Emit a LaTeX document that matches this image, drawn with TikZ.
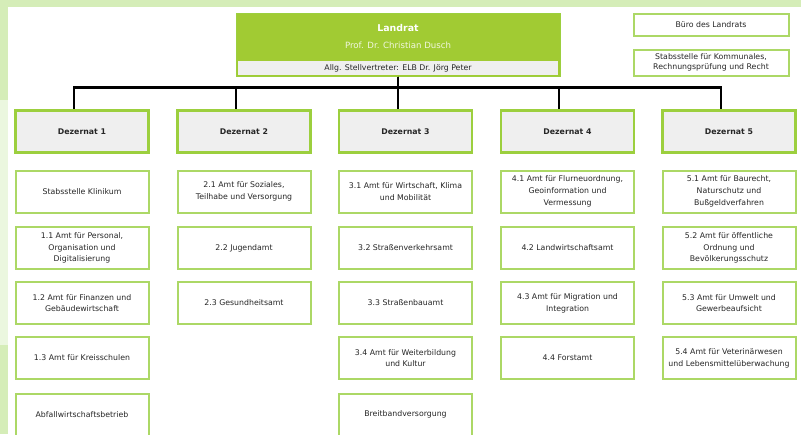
\documentclass[tikz,border=0pt]{standalone}
\usepackage{fontspec}
\setmainfont{DejaVu Sans}
\usepackage{tikz}

\definecolor{bandgreen}{HTML}{D5EDB8}
\definecolor{palegreen}{HTML}{EBF7DF}
\definecolor{leafgreen}{HTML}{A1CB33}
\definecolor{framegreen}{HTML}{9CCF3E}
\definecolor{amtgreen}{HTML}{ACD866}
\definecolor{boxgray}{HTML}{EFEFEF}
\definecolor{txtgray}{HTML}{262626}

\begin{document}
\begin{tikzpicture}[x=1pt,y=-1pt,
    landrat/.style={
% The shape:
rectangle,
% The size:
minimum height=63pt,
minimum width=324pt,
% The border:
draw=framegreen, line width=1pt, fill=leafgreen
},
    stellv/.style={
% The shape:
rectangle,
% The size:
minimum height=12pt,
minimum width=320pt,
fill=boxgray, text=txtgray,
font=\fontsize{7.8}{9}\selectfont
},
    dezernat/.style={
% The shape:
rectangle,
% The size:
minimum height=42pt,
minimum width=133pt,
% The border:
draw=framegreen, line width=2.5pt, fill=boxgray,
font=\fontsize{7.8}{9}\selectfont\bfseries, text=txtgray
},
    amt/.style={
% The shape:
rectangle,
% The size:
minimum height=42pt,
minimum width=133pt,
inner sep=1pt,
% The border:
draw=amtgreen, line width=2pt, fill=white,
align=center, text=txtgray,
font=\fontsize{7.8}{11.7}\selectfont
},
    stab/.style={amt, minimum width=155pt},
    conn/.style={draw=black, line width=2.2pt},
]
  \useasboundingbox (0,0) rectangle (801,434);
  \clip (0,0) rectangle (801,434);

  % background strips
  \fill[bandgreen] (0,0) rectangle (801,7);
  \fill[bandgreen] (0,0) rectangle (8,100);
  \fill[palegreen] (0,100) rectangle (8,345);
  \fill[bandgreen] (0,345) rectangle (8,434);

  % Landrat
  \node[landrat]                        (L) at (398, 44.5)   {};
  \node[stellv]                         (S) at (398, 68)     {Allg. Stellvertreter: ELB Dr. Jörg Peter};
  \node[text=white, font=\fontsize{9.4}{10}\selectfont\bfseries]
                                        (Lname) at (398, 28) {Landrat};
  \node[text=white!85!leafgreen, font=\fontsize{8.6}{10}\selectfont]
                                        (Lprof) at (398, 45) {Prof. Dr. Christian Dusch};

  \node[stab, minimum height=22pt]      (buero) at (711, 24.5) {Büro des Landrats};
  \node[stab, minimum height=26pt, font=\fontsize{7.8}{10}\selectfont]
                                        (stabs) at (711, 62.5) {Stabsstelle für Kommunales,\\Rechnungsprüfung und Recht};

  % Dezernate
  \node[dezernat]                       (D1) at (82, 131.5)    {Dezernat 1};
  \node[dezernat]                       (D2) at (244, 131.5)   {Dezernat 2};
  \node[dezernat]                       (D3) at (405.5, 131.5) {Dezernat 3};
  \node[dezernat]                       (D4) at (567.5, 131.5) {Dezernat 4};
  \node[dezernat]                       (D5) at (729, 131.5)   {Dezernat 5};

  \draw[conn] (L.south) -- ++(0,11) -| ([xshift=-8pt]D1.north);
  \draw[conn] (L.south) -- ++(0,11) -| ([xshift=-8pt]D2.north);
  \draw[conn] (L.south) -- ([xshift=-7.5pt]D3.north);
  \draw[conn] (L.south) -- ++(0,11) -| ([xshift=-8.5pt]D4.north);
  \draw[conn] (L.south) -- ++(0,11) -| ([xshift=-8pt]D5.north);

  % Dezernat 1
  \node[amt] (A11) at (82, 191.5) {Stabsstelle Klinikum};
  \node[amt] (A12) at (82, 248)   {1.1 Amt für Personal,\\Organisation und\\Digitalisierung};
  \node[amt] (A13) at (82, 303)   {1.2 Amt für Finanzen und\\Gebäudewirtschaft};
  \node[amt] (A14) at (82, 358)   {1.3 Amt für Kreisschulen};
  \node[amt] (A15) at (82, 414.5) {Abfallwirtschaftsbetrieb};

  % Dezernat 2
  \node[amt] (A21) at (244, 191.5) {2.1 Amt für Soziales,\\Teilhabe und Versorgung};
  \node[amt] (A22) at (244, 248)   {2.2 Jugendamt};
  \node[amt] (A23) at (244, 303)   {2.3 Gesundheitsamt};

  % Dezernat 3
  \node[amt] (A31) at (405.5, 191.5) {3.1 Amt für Wirtschaft, Klima\\und Mobilität};
  \node[amt] (A32) at (405.5, 248)   {3.2 Straßenverkehrsamt};
  \node[amt] (A33) at (405.5, 303)   {3.3 Straßenbauamt};
  \node[amt] (A34) at (405.5, 358)   {3.4 Amt für Weiterbildung\\und Kultur};
  \node[amt] (A35) at (405.5, 414.5) {Breitbandversorgung};

  % Dezernat 4
  \node[amt] (A41) at (567.5, 191.5) {4.1 Amt für Flurneuordnung,\\Geoinformation und\\Vermessung};
  \node[amt] (A42) at (567.5, 248)   {4.2 Landwirtschaftsamt};
  \node[amt] (A43) at (567.5, 303)   {4.3 Amt für Migration und\\Integration};
  \node[amt] (A44) at (567.5, 358)   {4.4 Forstamt};

  % Dezernat 5
  \node[amt] (A51) at (729, 191.5) {5.1 Amt für Baurecht,\\Naturschutz und\\Bußgeldverfahren};
  \node[amt] (A52) at (729, 248)   {5.2 Amt für öffentliche\\Ordnung und\\Bevölkerungsschutz};
  \node[amt] (A53) at (729, 303)   {5.3 Amt für Umwelt und\\Gewerbeaufsicht};
  \node[amt] (A54) at (729, 358)   {5.4 Amt für Veterinärwesen\\und Lebensmittelüberwachung};
\end{tikzpicture}
\end{document}
